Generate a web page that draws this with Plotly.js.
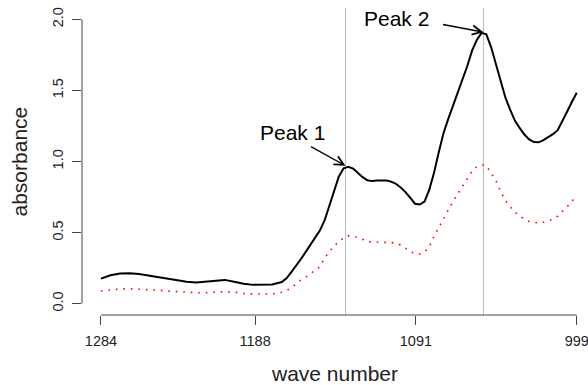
<!DOCTYPE html>
<html>
<head>
<meta charset="utf-8">
<script src="https://cdn.plot.ly/plotly-3.0.1.min.js"></script>
<style>html,body{margin:0;padding:0;background:#fff;}#chart{width:588px;height:385px;}</style>
</head>
<body>
<div id="chart"></div>
<script>
// Position along the spectrum (index scale, 0 = 1284 cm-1, 100 = 999 cm-1)
const position = [0,2,4,6,8,10,12,14,16,18,20,22,24,26,28,30,32,34,36,
  38,39,40,41,42,43,44,45,46,47,48,49,50,51,52,53,54,55,56,57,58,59,60,
  61,62,63,64,65,66,67,68,69,70,71,72,73,74,75,76,77,78,79,80,81,82,83,
  84,85,86,87,88,89,90,91,92,93,94,95,96,97,98,99,100];
// Black solid spectrum
const absorbanceA = [0.176,0.200,0.212,0.214,0.208,0.197,0.185,0.172,0.163,0.154,0.148,0.154,0.164,0.167,0.154,0.140,0.132,0.131,0.134,
  0.152,0.178,0.222,0.265,0.312,0.362,0.413,0.463,0.514,0.585,0.690,0.805,0.895,0.952,0.962,0.950,0.920,0.890,0.868,0.862,0.866,0.868,0.867,
  0.858,0.843,0.817,0.785,0.745,0.703,0.697,0.718,0.800,0.920,1.065,1.200,1.300,1.392,1.486,1.580,1.672,1.780,1.855,1.905,1.895,1.805,1.680,
  1.558,1.450,1.365,1.288,1.236,1.190,1.155,1.137,1.135,1.150,1.172,1.192,1.220,1.282,1.352,1.420,1.484];
// Red dotted spectrum
const absorbanceB = [0.089,0.097,0.103,0.104,0.102,0.099,0.095,0.088,0.083,0.079,0.077,0.077,0.080,0.084,0.081,0.071,0.068,0.068,0.068,
  0.080,0.092,0.110,0.137,0.165,0.185,0.208,0.235,0.259,0.320,0.363,0.410,0.432,0.465,0.478,0.472,0.465,0.452,0.438,0.433,0.433,0.433,0.433,
  0.430,0.424,0.413,0.390,0.366,0.352,0.349,0.362,0.400,0.473,0.535,0.603,0.663,0.720,0.772,0.827,0.885,0.933,0.964,0.976,0.972,0.915,0.866,
  0.789,0.727,0.683,0.643,0.618,0.594,0.578,0.571,0.567,0.573,0.583,0.594,0.616,0.646,0.682,0.722,0.755];
// Tick labels
const xTickPos = [0, 32.4, 66.2, 100];
const xTickText = ['1284', '1188', '1091', '999'];
const yTickVals = [0, 0.5, 1, 1.5, 2];
const yTickText = ['0.0', '0.5', '1.0', '1.5', '2.0'];
// Peaks
const peakX = [51.4, 80.4];
const peakY = [0.97, 1.91];
const peakLabels = ['Peak 1', 'Peak 2'];

const FONT = 'Liberation Sans, Arial, Helvetica, sans-serif';

const traces = [
  {x: position, y: absorbanceA, type: 'scatter', mode: 'lines',
   line: {color: '#000000', width: 2}, hoverinfo: 'skip', showlegend: false},
  {x: position, y: absorbanceB, type: 'scatter', mode: 'lines',
   line: {color: '#ff0000', width: 1.6, dash: '1.6px,5.9px'}, hoverinfo: 'skip', showlegend: false}
];

const shapes = [];
peakX.forEach(px => shapes.push({type: 'line', xref: 'x', yref: 'paper', x0: px, x1: px, y0: 0, y1: 1,
  line: {color: '#bebebe', width: 1}, layer: 'below'}));
// R-style axis lines spanning only the tick range
shapes.push({type: 'line', xref: 'x', yref: 'paper', x0: xTickPos[0], x1: xTickPos[xTickPos.length-1], y0: 0, y1: 0,
  line: {color: '#444', width: 1}});
shapes.push({type: 'line', xref: 'paper', yref: 'y', x0: 0, x1: 0, y0: yTickVals[0], y1: yTickVals[yTickVals.length-1],
  line: {color: '#444', width: 1}});

const labelShift = [[-53, 33], [-87, 14]];
const arrowTail = [[-36, -20], [-42, -8]];
const annotations = [];
peakX.forEach((px, i) => {
  annotations.push({x: px, y: peakY[i], xref: 'x', yref: 'y', text: peakLabels[i], showarrow: false,
    xshift: labelShift[i][0], yshift: labelShift[i][1], font: {family: FONT, size: 21, color: '#000'}});
  annotations.push({x: px, y: peakY[i], xref: 'x', yref: 'y', text: '', showarrow: true,
    ax: arrowTail[i][0], ay: arrowTail[i][1], arrowhead: 5, arrowsize: 1.3, arrowwidth: 1.4, arrowcolor: '#000'});
});
// y-axis label, placed like R's ylab
annotations.push({xref: 'paper', yref: 'paper', x: 0, y: 0.5, xanchor: 'center', yanchor: 'middle',
  xshift: -63, text: 'absorbance', textangle: -90, showarrow: false,
  font: {family: FONT, size: 21, color: '#222'}});

const layout = {
  width: 588, height: 385,
  margin: {l: 82, r: 0, t: 8, b: 70, pad: 0},
  paper_bgcolor: '#ffffff', plot_bgcolor: '#ffffff',
  font: {family: FONT, color: '#000'},
  showlegend: false,
  xaxis: {range: [-3.99, 102.37], showgrid: false, zeroline: false, showline: false,
    tickmode: 'array', tickvals: xTickPos, ticktext: xTickText,
    ticks: 'outside', ticklen: 9, tickwidth: 1, tickcolor: '#444',
    ticklabelstandoff: 4, ticklabeloverflow: 'allow',
    tickfont: {family: FONT, size: 14.5, color: '#222'},
    title: {text: 'wave number', font: {family: FONT, size: 21, color: '#222'}, standoff: 17},
    automargin: false},
  yaxis: {range: [-0.08, 2.08], showgrid: false, zeroline: false, showline: false,
    tickmode: 'array', tickvals: yTickVals, ticktext: yTickText, tickangle: -90,
    ticks: 'outside', ticklen: 9, tickwidth: 1, tickcolor: '#444',
    ticklabelstandoff: 3,
    tickfont: {family: FONT, size: 14.5, color: '#222'},
    automargin: false},
  shapes: shapes,
  annotations: annotations
};

Plotly.newPlot('chart', traces, layout, {staticPlot: true, displayModeBar: false});
</script>
</body>
</html>
